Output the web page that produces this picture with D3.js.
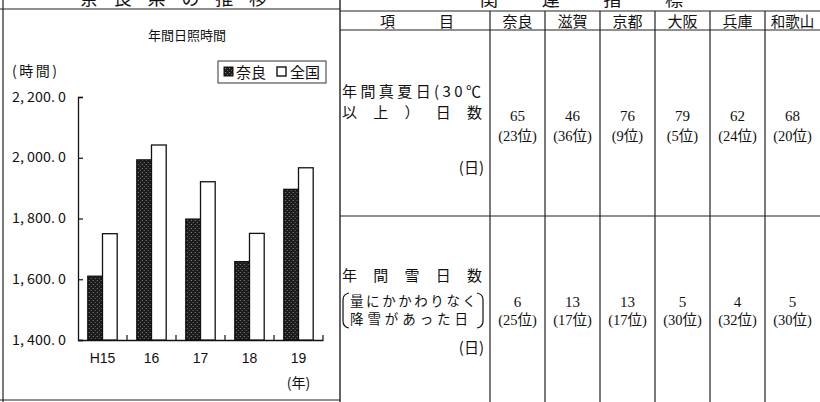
<!DOCTYPE html>
<html>
<head>
<meta charset="utf-8">
<script src="https://cdn.jsdelivr.net/npm/d3@7"></script>
<style>
  body { margin: 0; background: #fff; }
  text { fill: #111; }
</style>
</head>
<body>
<div id="chart-area"></div>
<script>
// chart data
const years = ["H15", "16", "17", "18", "19"]
const series = ["奈良", "全国"]
const naraHours = [1610, 1993, 1798, 1658, 1896]
const zenkokuHours = [1750, 2042, 1921, 1751, 1967]
const yTicks = [1400, 1600, 1800, 2000, 2200]

// table data
const prefs = ["奈良", "滋賀", "京都", "大阪", "兵庫", "和歌山"]
const hotDays = [65, 46, 76, 79, 62, 68]
const hotRanks = [23, 36, 9, 5, 24, 20]
const snowDays = [6, 13, 13, 5, 4, 5]
const snowRanks = [25, 17, 17, 30, 32, 30]

const JP = "'Noto Sans CJK JP', sans-serif"
const SERIF = "'Liberation Serif', 'Noto Sans CJK JP', serif"

let svg = d3.select("#chart-area").append("svg")
  .attr("width", 820)
  .attr("height", 402)

// stipple fill for the Nara bars
let pat = svg.append("defs").append("pattern")
  .attr("id", "stipple")
  .attr("width", 4).attr("height", 4)
  .attr("patternUnits", "userSpaceOnUse")
pat.append("rect").attr("width", 4).attr("height", 4).attr("fill", "#1c1c1c")
pat.append("rect").attr("x", 1).attr("y", 0).attr("width", 1).attr("height", 1).attr("fill", "#8a8a8a")
pat.append("rect").attr("x", 3).attr("y", 2).attr("width", 1).attr("height", 1).attr("fill", "#6a6a6a")

// frame lines
const line = (x1, y1, x2, y2, w) => svg.append("line")
  .attr("x1", x1).attr("y1", y1).attr("x2", x2).attr("y2", y2)
  .attr("stroke", "#222").attr("stroke-width", w || 1.2)

line(3, 0, 3, 402)
line(0, 9, 340, 9)
line(340, 0, 340, 402, 1.4)
line(0, 400, 340, 400)

// section headings, cut off at the top of the scan
svg.append("text").attr("x", 80).attr("y", 5)
  .attr("font-family", JP).attr("font-size", 18)
  .attr("textLength", 187).attr("lengthAdjust", "spacing")
  .text("奈良県の推移")
svg.append("text").attr("x", 480).attr("y", 6)
  .attr("font-family", JP).attr("font-size", 18)
  .attr("textLength", 203).attr("lengthAdjust", "spacing")
  .text("関連指標")

// ---------- bar chart ----------
let x = d3.scaleBand().domain(years).range([78, 323]).paddingInner(0.4).paddingOuter(0.2)
let xs = d3.scaleBand().domain(series).range([0, x.bandwidth()])
let y = d3.scaleLinear().domain([1400, 2200]).range([340, 97])

svg.append("text").attr("x", 187).attr("y", 40)
  .attr("text-anchor", "middle").attr("font-family", JP).attr("font-size", 13)
  .text("年間日照時間")

svg.append("text").attr("x", 12).attr("y", 76)
  .attr("font-family", JP).attr("font-size", 14)
  .attr("textLength", 45).attr("lengthAdjust", "spacing")
  .text("(時間)")

let yAxis = svg.append("g")
  .attr("transform", "translate(78,0)")
  .call(d3.axisLeft(y).tickValues(yTicks).tickSize(-5).tickPadding(12)
    .tickFormat(v => d3.format(",.1f")(v).replace(",", ", ").replace(".", ". ")))
yAxis.select(".domain").attr("stroke", "#111").attr("stroke-width", 1.3)
yAxis.selectAll(".tick line").attr("stroke", "#111").attr("stroke-width", 1.2)
yAxis.selectAll(".tick text")
  .attr("font-family", JP).attr("font-size", 13).attr("fill", "#111")
  .attr("textLength", 54).attr("lengthAdjust", "spacingAndGlyphs")

// x axis line with group boundary ticks
let xAxis = svg.append("g")
  .attr("transform", "translate(0,340)")
  .call(d3.axisBottom(x).tickSize(0).tickPadding(13))
xAxis.select(".domain").attr("stroke", "#111").attr("stroke-width", 1.3)
xAxis.selectAll(".tick text").attr("font-family", "'Liberation Sans', sans-serif")
  .attr("font-size", 14).attr("fill", "#111")
xAxis.selectAll(".bound")
  .data(d3.range(1, years.length + 1))
  .enter().append("line")
    .attr("x1", i => x.range()[0] + i * x.step())
    .attr("x2", i => x.range()[0] + i * x.step())
    .attr("y1", 0).attr("y2", -5)
    .attr("stroke", "#111").attr("stroke-width", 1.2)

svg.append("text").attr("x", x("19") + x.bandwidth() / 2).attr("y", 388)
  .attr("text-anchor", "middle").attr("font-family", JP).attr("font-size", 14)
  .text("(年)")

let rows = years.map((yr, i) => ({ year: yr, 奈良: naraHours[i], 全国: zenkokuHours[i] }))

let groups = svg.selectAll(".grp")
  .data(rows)
  .enter().append("g")
    .attr("transform", d => "translate(" + x(d.year) + ",0)")

groups.selectAll("rect")
  .data(d => series.map(s => ({ key: s, value: d[s] })))
  .enter().append("rect")
    .attr("x", d => xs(d.key))
    .attr("y", d => y(d.value))
    .attr("width", xs.bandwidth())
    .attr("height", d => y(1400) - y(d.value))
    .attr("fill", d => d.key == "奈良" ? "url(#stipple)" : "#fff")
    .attr("stroke", "#111")
    .attr("stroke-width", 1.3)

// legend
let legend = svg.append("g")
legend.append("rect").attr("x", 218).attr("y", 61).attr("width", 108).attr("height", 22)
  .attr("fill", "#fff").attr("stroke", "#333").attr("stroke-width", 1)
legend.append("rect").attr("x", 224).attr("y", 67).attr("width", 9).attr("height", 9)
  .attr("fill", "url(#stipple)").attr("stroke", "#111")
legend.append("text").attr("x", 236).attr("y", 78).attr("font-family", JP).attr("font-size", 15).text(series[0])
legend.append("rect").attr("x", 277).attr("y", 67).attr("width", 9).attr("height", 9)
  .attr("fill", "#fff").attr("stroke", "#111").attr("stroke-width", 1.4)
legend.append("text").attr("x", 290).attr("y", 78).attr("font-family", JP).attr("font-size", 15).text(series[1])

// ---------- table ----------
let col = d3.scaleBand().domain(prefs).range([490, 820])

line(340, 11, 820, 11)
line(340, 30, 820, 30)
line(340, 216, 820, 216)
col.domain().forEach(p => line(col(p), 11, col(p), 402))

svg.append("text").attr("x", 380).attr("y", 27)
  .attr("font-family", JP).attr("font-size", 15)
  .attr("textLength", 74).attr("lengthAdjust", "spacing")
  .text("項目")

svg.selectAll(".hdr")
  .data(prefs)
  .enter().append("text")
    .attr("x", p => col(p) + col.bandwidth() / 2)
    .attr("y", 27)
    .attr("text-anchor", "middle")
    .attr("font-family", JP)
    .attr("font-size", p => p.length > 2 ? 14.5 : 15)
    .text(p => p)

// row labels
const label = (txt, x0, yb, len, size) => {
  let t = svg.append("text").attr("x", x0).attr("y", yb)
    .attr("font-family", JP).attr("font-size", size || 15).text(txt)
  if (len) t.attr("textLength", len).attr("lengthAdjust", "spacing")
  return t
}
label("年間真夏日(30℃", 342, 97, 139)
label("以上）日数", 342, 118, 140)
label("(日)", 484, 173).attr("text-anchor", "end")

label("年間雪日数", 342, 281, 140)
label("量にかかわりなく", 350, 306, 126, 13.5)
label("降雪があった日", 350, 324, 118, 13.5)
label("(日)", 484, 353).attr("text-anchor", "end")

// curly-ish brackets around the note
svg.append("path").attr("d", "M349,293 Q343,294 343,300 L343,321 Q343,327 349,328")
  .attr("fill", "none").attr("stroke", "#111").attr("stroke-width", 1.2)
svg.append("path").attr("d", "M477,293 Q483,294 483,300 L483,321 Q483,327 477,328")
  .attr("fill", "none").attr("stroke", "#111").attr("stroke-width", 1.2)

// values
const valueRow = (vals, ranks, yNum, yRank) => {
  svg.append("g").selectAll("text")
    .data(prefs)
    .enter().append("text")
      .attr("x", p => col(p) + col.bandwidth() / 2)
      .attr("y", yNum)
      .attr("text-anchor", "middle")
      .attr("font-family", SERIF).attr("font-size", 15)
      .text((p, i) => vals[i])
  svg.append("g").selectAll("text")
    .data(prefs)
    .enter().append("text")
      .attr("x", p => col(p) + col.bandwidth() / 2)
      .attr("y", yRank)
      .attr("text-anchor", "middle")
      .attr("font-family", SERIF).attr("font-size", 14.5)
      .text((p, i) => "(" + ranks[i] + "位)")
}
valueRow(hotDays, hotRanks, 121, 141)
valueRow(snowDays, snowRanks, 307, 325)
</script>
</body>
</html>
